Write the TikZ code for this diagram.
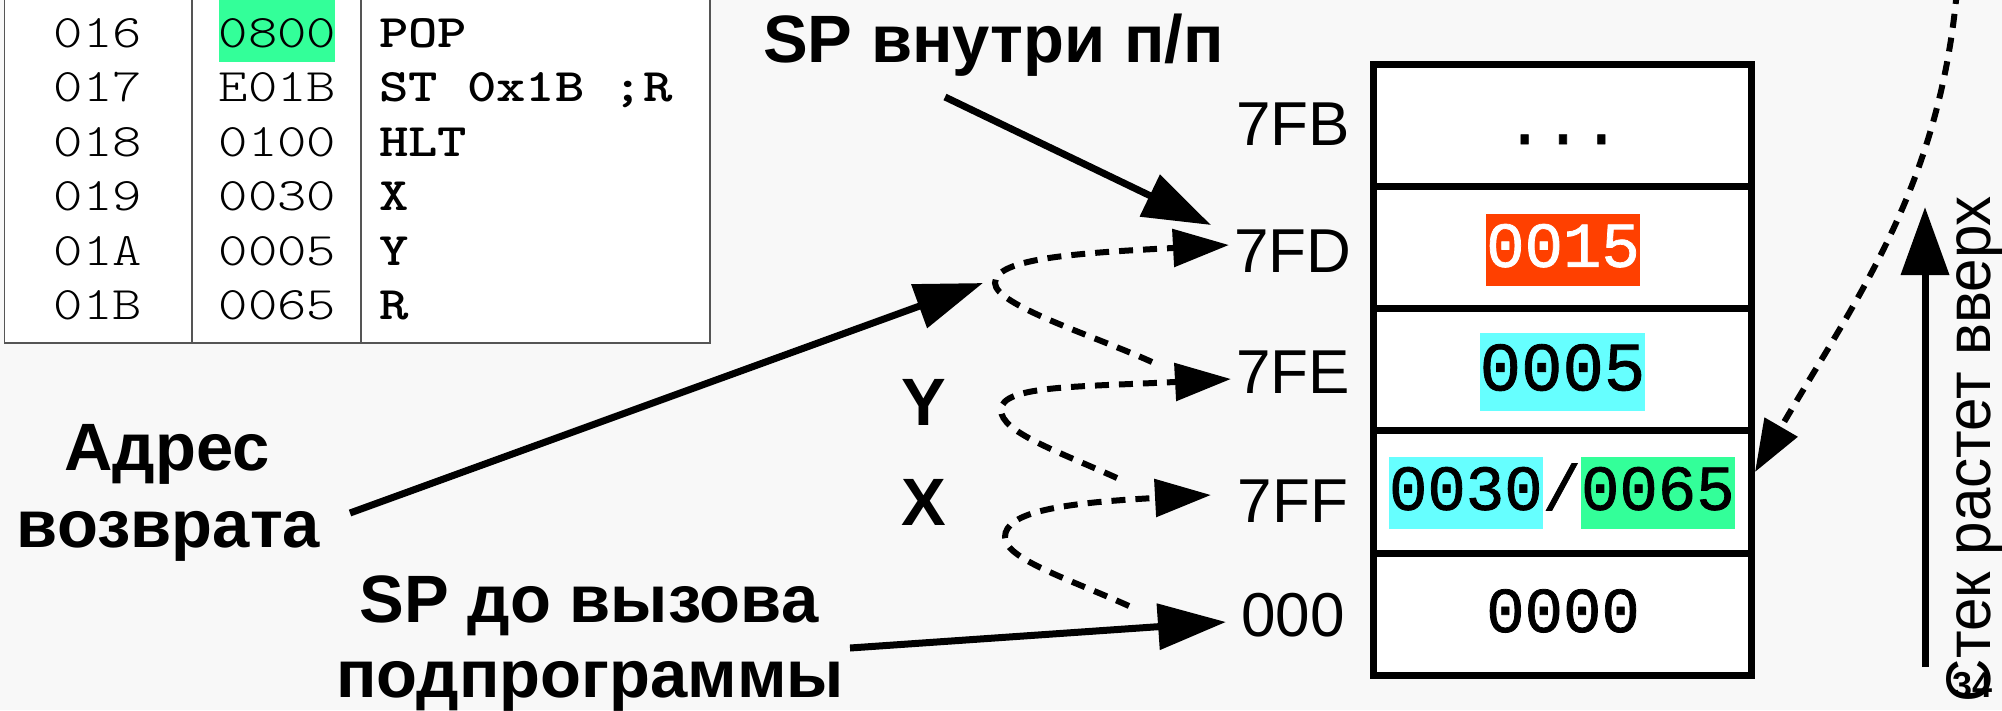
\documentclass[tikz,border=0pt]{standalone}
\usepackage{fontspec}
\setmainfont{Liberation Sans}
\newfontfamily\monocell[FakeBold=1.2]{Liberation Mono}
\newfontfamily\codethin[FakeStretch=1.2]{lmmonolt10-regular.otf}
\newfontfamily\codebold[FakeStretch=1.2]{lmmonolt10-bold.otf}
\newfontfamily\growfont[FakeStretch=0.955]{Liberation Sans}
\usetikzlibrary{arrows.meta}
\definecolor{paper}{HTML}{F8F8F8}
\definecolor{hlgreen}{HTML}{33FF99}
\definecolor{hlcyan}{HTML}{66FFFF}
\definecolor{hlred}{HTML}{FF4000}
\definecolor{rulegray}{HTML}{555555}

\begin{document}
\begin{tikzpicture}[x=1pt,y=-1pt,
  every node/.style={inner sep=0pt, outer sep=0pt},
  addr/.style={font=\fontsize{46.6}{54}\codethin, anchor=base},
  instr/.style={font=\fontsize{46.6}{54}\codebold, anchor=base west},
  bigbold/.style={font=\fontsize{67}{77}\selectfont\bfseries, anchor=base},
  slot/.style={font=\fontsize{62}{70}\selectfont, anchor=base},
  cell/.style={draw, line width=7pt, fill=white, minimum width=378pt, minimum height=122.3pt},
  val/.style={font=\fontsize{64}{70}\monocell, anchor=base, text height=53.3pt, text depth=19.2pt},
  pointer/.style={line width=7pt, -{Triangle[length=68pt,width=45pt]}},
  move/.style={line width=6pt, dash pattern=on 14pt off 10pt, -{Triangle[length=56pt,width=37pt]}},
]
\path[use as bounding box, fill=paper] (0,0) rectangle (2002,710);

% program listing
\fill[white] (4.5,-5) rectangle (710,343);
\fill[hlgreen] (219,-5) rectangle (335,62);
\draw[rulegray, line width=1.5pt] (4.5,-5) -- (4.5,343) -- (710,343) -- (710,-5);
\draw[rulegray, line width=1.5pt] (192,-5) -- (192,343) (361,-5) -- (361,343);
\foreach \a/\w/\i [count=\k from 0] in
  {016/0800/POP, 017/E01B/{ST 0x1B ;R}, 018/0100/HLT, 019/0030/X, 01A/0005/Y, 01B/0065/R}{
  \node[addr] (addr\k) at (98,47+54.5*\k) {\a};
  \node[addr] (word\k) at (277.5,47+54.5*\k) {\w};
  \node[instr] (instr\k) at (379,47+54.5*\k) {\i};
}

% stack cells
\node[cell] (c1) at (1562.5,125.15) {};
\node[cell] (c2) at (1562.5,247.45) {};
\node[cell] (c3) at (1562.5,369.75) {};
\node[cell] (c4) at (1562.5,492.05) {};
\node[cell] (c5) at (1562.5,614.35) {};

\node[val] (v1) at (1563,144) {...};
\node[val, fill=hlred, text=white] (v2) at (1563,266.8) {0015};
\node[val, font=\fontsize{69}{75}\monocell, text height=57.5pt, text depth=20.7pt, fill=hlcyan] (v3) at (1562.5,390.3) {0005};
\node[val, anchor=base west, fill=hlcyan] (v4a) at (1389,509.8) {0030};
\node[val, anchor=base west] (v4s) at (v4a.base east) {/};
\node[val, anchor=base west, fill=hlgreen] (v4b) at (v4s.base east) {0065};
\node[val] (v5) at (1563,632) {0000};

% addresses
\node[slot] (s7FB) at (1293,145) {7FB};
\node[slot] (s7FD) at (1293,272) {7FD};
\node[slot] (s7FE) at (1293,393) {7FE};
\node[slot] (s7FF) at (1293,522) {7FF};
\node[slot] (s000) at (1293,636) {000};

% labels
\node[bigbold] (spin) at (993.5,62) {SP внутри п/п};
\node[bigbold] (ret1) at (167,470) {Адрес};
\node[bigbold] (ret2) at (168.5,547) {возврата};
\node[bigbold] (call1) at (589,622) {SP до вызова};
\node[bigbold] (call2) at (590,697) {подпрограммы};
\node[bigbold] (lblY) at (924,425) {Y};
\node[bigbold] (lblX) at (924,525) {X};

% solid pointers
\coordinate (spin-tail) at (945,97);
\coordinate (spin-head) at (1211,225);
\coordinate (ret-tail) at (350,513);
\coordinate (ret-head) at (983,283);
\coordinate (call-tail) at (850,648);
\coordinate (call-head) at (1226,622);
\draw[pointer] (spin-tail) -- (spin-head);
\draw[pointer] (ret-tail) -- (ret-head);
\draw[pointer] (call-tail) -- (call-head);

% stack pointer steps
\draw[move] (1152,362) .. controls (1092,335) and (995,305) .. (995,283)
  .. controls (995,258) and (1079,253) .. (1229,245);
\draw[move] (1117,478) .. controls (1057,451) and (1001,432) .. (1001,410)
  .. controls (1001,385) and (1081,387) .. (1231,379);
\draw[move] (1129,606) .. controls (1069,579) and (1005,559) .. (1005,537)
  .. controls (1005,512) and (1061,503) .. (1211,495);

% return into the stack
\coordinate (back-tail) at (1957,-10);
\coordinate (back-head) at (1755,472);
\draw[line width=6pt, dash pattern=on 14pt off 10pt, -{Triangle[length=52pt,width=37pt]}]
  (back-tail) .. controls (1939,190) and (1855,300) .. (back-head);

% growth direction
\coordinate (grow-foot) at (1925,667);
\coordinate (grow-head) at (1925,207);
\draw[line width=7pt, -{Triangle[length=68pt,width=47pt]}] (grow-foot) -- (grow-head);
\node[rotate=90, anchor=base, font=\fontsize{63}{70}\growfont] (grow) at (1990,449) {Стек растет вверх};
\node[font=\fontsize{36}{40}\selectfont\bfseries] (pg) at (1972,685) {34};
\end{tikzpicture}
\end{document}
